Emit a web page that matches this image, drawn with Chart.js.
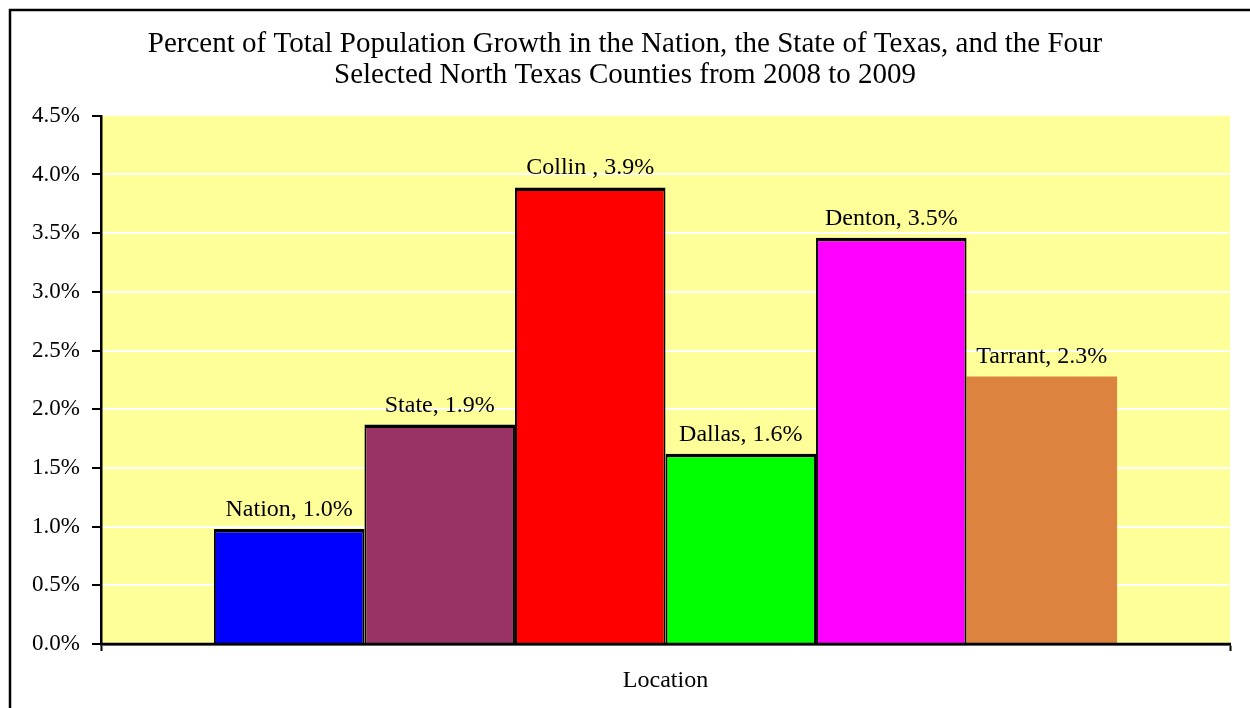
<!DOCTYPE html>
<html>
<head>
<meta charset="utf-8">
<script src="https://cdn.jsdelivr.net/npm/chart.js@4/dist/chart.umd.min.js"></script>
<style>
  body { margin: 0; background: #fff; }
  canvas { display: block; }
</style>
</head>
<body>
<canvas id="growthChart" width="1250" height="708"></canvas>
<script>
const categories = ['Location'];
const places = ['Nation', 'State', 'Collin ', 'Dallas', 'Denton', 'Tarrant'];
const growth = [0.98, 1.87, 3.89, 1.62, 3.46, 2.28];
const barColors = ['#0000FF', '#993366', '#FF0000', '#00FF00', '#FF00FF', '#DC8340'];
const hasBorder = [true, true, true, true, true, false];
const titleLines = [
    'Percent of Total Population Growth in the Nation, the State of Texas, and the Four',
    'Selected North Texas Counties from 2008 to 2009'
];

const serif = 'Liberation Serif';

// fondo amarillo del area y marco exterior
const backgroundPlugin = {
    id: 'fondo',
    beforeDraw(chart) {
        const { ctx, chartArea } = chart;
        ctx.save();
        ctx.fillStyle = '#FFFF99';
        ctx.fillRect(chartArea.left, chartArea.top, chartArea.right - chartArea.left, chartArea.bottom - chartArea.top);
        ctx.strokeStyle = '#000';
        ctx.lineWidth = 2.5;
        ctx.strokeRect(10, 10, 2000, 2000);
        ctx.restore();
    },
    afterDatasetsDraw(chart) {
        const { ctx, chartArea } = chart;
        ctx.save();
        // linea del eje x otra vez encima de las barras
        ctx.strokeStyle = '#000';
        ctx.lineWidth = 2.5;
        ctx.beginPath();
        ctx.moveTo(chartArea.left - 1, chartArea.bottom);
        ctx.lineTo(chartArea.right + 1, chartArea.bottom);
        ctx.stroke();

        // etiquetas encima de cada barra
        ctx.fillStyle = '#000';
        ctx.font = '24px "' + serif + '"';
        ctx.textAlign = 'center';
        ctx.textBaseline = 'alphabetic';
        chart.data.datasets.forEach((ds, i) => {
            const bar = chart.getDatasetMeta(i).data[0];
            ctx.fillText(ds.label + ', ' + ds.data[0].toFixed(1) + '%', bar.x, bar.y - 13);
        });
        ctx.restore();
    }
};

const datasets = places.map((name, i) => ({
    label: name,
    data: [growth[i]],
    backgroundColor: barColors[i],
    borderColor: '#000',
    borderWidth: hasBorder[i] ? { top: 3.5, left: 2, right: 2, bottom: 0 } : 0,
    categoryPercentage: 0.8,
    barPercentage: 1.0
}));

new Chart(document.getElementById('growthChart'), {
    type: 'bar',
    data: { labels: categories, datasets: datasets },
    options: {
        responsive: false,
        animation: false,
        layout: { padding: 0 },
        plugins: {
            legend: { display: false },
            tooltip: { enabled: false },
            title: {
                display: true,
                text: titleLines,
                color: '#000',
                font: { family: serif, size: 29, weight: 'normal', lineHeight: 1.1 },
                padding: { top: 28, bottom: 24 }
            }
        },
        scales: {
            x: {
                afterFit(scale) { scale.height = 64; },
                grid: {
                    offset: true,
                    drawOnChartArea: false,
                    tickLength: 7,
                    tickColor: '#000',
                    tickWidth: 2
                },
                border: { color: '#000', width: 2.5 },
                ticks: {
                    color: '#000',
                    padding: 15,
                    font: { family: serif, size: 24 }
                }
            },
            y: {
                min: 0,
                max: 4.5,
                afterFit(scale) { scale.width = 101; },
                grid: {
                    color: (c) => (c.tick && c.tick.value >= 4.5) ? 'rgba(0,0,0,0)' : '#FFFFFF',
                    lineWidth: 2,
                    tickLength: 9,
                    tickColor: '#000',
                    tickWidth: 2
                },
                border: { color: '#000', width: 2.5 },
                ticks: {
                    stepSize: 0.5,
                    color: '#000',
                    padding: 12,
                    font: { family: serif, size: 23 },
                    callback: (v) => v.toFixed(1) + '%'
                }
            },
            // eje vacio a la derecha, solo deja el margen
            margen: {
                position: 'right',
                afterFit(scale) { scale.width = 20; },
                grid: { display: false },
                border: { display: false },
                ticks: { display: false }
            }
        }
    },
    plugins: [backgroundPlugin]
});
</script>
</body>
</html>
